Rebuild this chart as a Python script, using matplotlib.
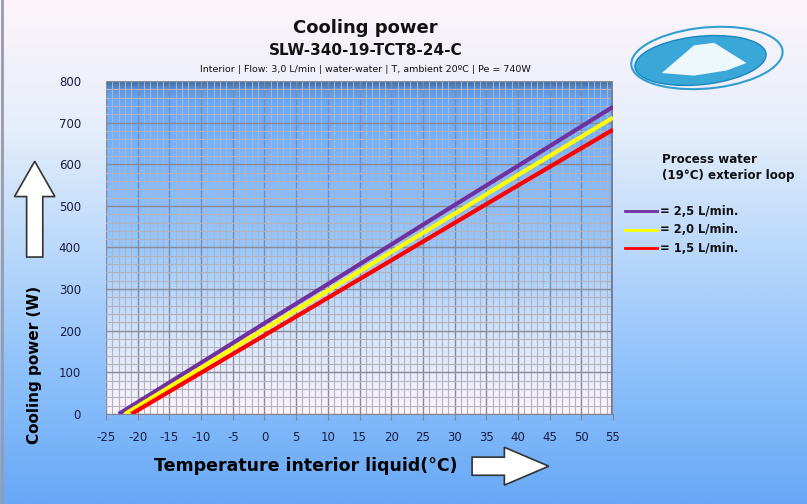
import matplotlib
matplotlib.use("Agg")
import matplotlib.pyplot as plt
import numpy as np
from matplotlib.colors import LinearSegmentedColormap
from matplotlib.patches import FancyArrow, Ellipse, Polygon

plt.rcParams["axes.unicode_minus"] = False

# values (temperature in degC, cooling power in W)
t_25 = [-23, -10, 0, 10, 20, 30, 40, 55]
p_25 = [0, 123, 218, 312, 407, 502, 596, 738]
t_20 = [-22, -10, 0, 10, 20, 30, 40, 55]
p_20 = [0, 111, 204, 296, 389, 481, 574, 712]
t_15 = [-21, -10, 0, 10, 20, 30, 40, 55]
p_15 = [0, 99, 189, 279, 369, 459, 549, 683]
labels = ["= 2,5 L/min.", "= 2,0 L/min.", "= 1,5 L/min."]
colors = ["#7030a0", "#ffff00", "#ff0000"]
xticks = list(range(-25, 56, 5))
yticks = list(range(0, 801, 100))

fig = plt.figure(figsize=(8.07, 5.04), dpi=100)

# figure background gradient
bg = fig.add_axes([0, 0, 1, 1], zorder=-10)
bg_cmap = LinearSegmentedColormap.from_list("bg", ["#fdf4fb", "#e6eefa", "#b9d8fb", "#8cc0fb", "#68a8f6"])
bg.imshow(np.linspace(0, 1, 256).reshape(-1, 1), aspect="auto", cmap=bg_cmap,
          extent=[0, 1, 0, 1], origin="upper")
bg.plot([0.003, 0.003], [0, 1], color="#9a9aa8", lw=2)
bg.set_xlim(0, 1)
bg.set_ylim(0, 1)
bg.axis("off")

ax = fig.add_axes([0.1314, 0.1786, 0.6282, 0.6607])
pa_cmap = LinearSegmentedColormap.from_list(
    "pa", [(0, "#3d6faa"), (0.03, "#5e9ae8"), (0.06, "#66aaff"), (0.5, "#98c8ff"),
           (0.78, "#d8e6fb"), (1, "#fdf3fb")])
ax.imshow(np.linspace(0, 1, 256).reshape(-1, 1), aspect="auto", cmap=pa_cmap,
          extent=[-25, 55, 0, 800], origin="upper", zorder=0)

ax.set_xlim(-25, 55)
ax.set_ylim(0, 800)
ax.set_xticks(xticks)
ax.set_yticks(yticks)
ax.set_xticks(np.arange(-25, 56, 1), minor=True)
ax.set_yticks(np.arange(0, 801, 20), minor=True)
ax.grid(which="minor", color="#b4b2ba", lw=0.8, zorder=1)
ax.grid(which="major", color="#8a8996", lw=1.0, zorder=1)
ax.tick_params(which="minor", length=0)
ax.tick_params(which="major", length=4, color="#85838f", labelsize=8.5,
               labelcolor="#1c1c40")
ax.tick_params(axis="x", pad=8)
ax.tick_params(axis="y", pad=18, length=0)
for s in ["top", "right", "left"]:
    ax.spines[s].set_visible(False)
ax.spines["bottom"].set_color("#85838f")
ax.axvline(55, color="#7d7f95", lw=3, zorder=2)

ax.plot(t_25, p_25, color=colors[0], lw=3, zorder=4, solid_capstyle="butt")
ax.plot(t_20, p_20, color=colors[1], lw=3, zorder=4, solid_capstyle="butt")
ax.plot(t_15, p_15, color=colors[2], lw=3, zorder=4, solid_capstyle="butt")

# titles
fig.text(0.453, 0.945, "Cooling power", ha="center", va="center",
         fontsize=13, fontweight="bold", color="#111111")
fig.text(0.453, 0.900, "SLW-340-19-TCT8-24-C", ha="center", va="center",
         fontsize=11, fontweight="bold", color="#111111")
fig.text(0.453, 0.863, "Interior | Flow: 3,0 L/min | water-water | T, ambient 20ºC | Pe = 740W",
         ha="center", va="center", fontsize=6.8, color="#111111")

# axis labels
fig.text(0.379, 0.075, "Temperature interior liquid(°C)", ha="center", va="center",
         fontsize=12.5, fontweight="bold", color="#000000")
fig.text(0.043, 0.275, "Cooling power (W)", ha="center", va="center", rotation=90,
         fontsize=11, fontweight="bold", color="#000000")

# arrows
bg.add_patch(FancyArrow(0.585, 0.075, 0.095, 0, width=0.036, head_width=0.075,
                        head_length=0.055, length_includes_head=True,
                        facecolor="white", edgecolor="#333333", lw=1.2, zorder=3))
bg.add_patch(FancyArrow(0.043, 0.49, 0, 0.19, width=0.02, head_width=0.05,
                        head_length=0.07, length_includes_head=True,
                        facecolor="white", edgecolor="#333333", lw=1.2, zorder=3))

# legend
fig.text(0.820, 0.668, "Process water\n(19°C) exterior loop", ha="left", va="center",
         fontsize=8.6, fontweight="bold", color="#111111", linespacing=1.3)
for i, (lab, c) in enumerate(zip(labels, colors)):
    yy = 0.581 - i * 0.037
    bg.plot([0.774, 0.814], [yy, yy], color=c, lw=2)
    fig.text(0.818, yy, lab, ha="left", va="center", fontsize=8.3,
             fontweight="bold", color="#111111")

# logo
bg.add_patch(Ellipse((0.876, 0.885), 0.19, 0.12, angle=12, facecolor="none",
                     edgecolor="#2f9fd0", lw=1.5, zorder=3))
bg.add_patch(Ellipse((0.868, 0.88), 0.165, 0.095, angle=12, facecolor="#3aa7d9",
                     edgecolor="#1a86c0", lw=1, zorder=3))
bg.add_patch(Polygon([(0.82, 0.855), (0.86, 0.91), (0.885, 0.915), (0.925, 0.875),
                      (0.9, 0.86), (0.86, 0.85)], closed=True, facecolor="#eef7fc",
                     edgecolor="none", zorder=4))

fig.savefig("out.png", dpi=100)
